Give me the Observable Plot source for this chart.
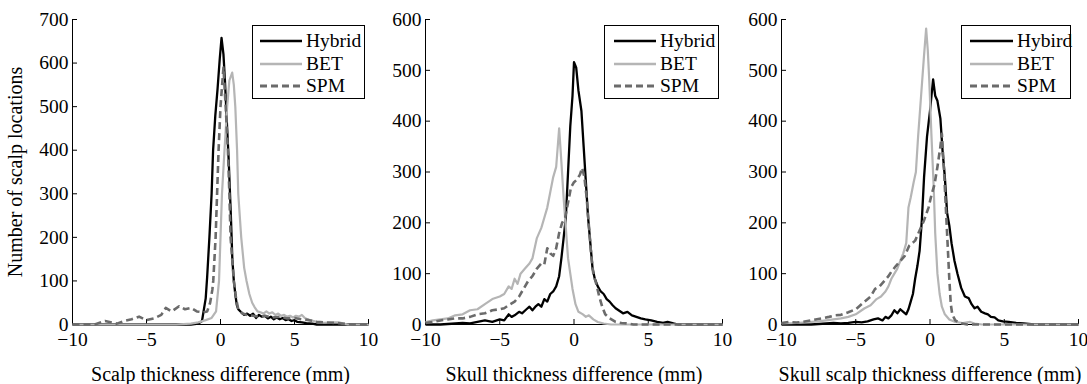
<!DOCTYPE html>
<html>
<head>
<meta charset="utf-8">
<script src="https://cdn.jsdelivr.net/npm/d3@7"></script>
<script src="https://cdn.jsdelivr.net/npm/@observablehq/plot@0.6"></script>
<style>
  html, body { margin: 0; padding: 0; background: #fff; }
  #root { position: relative; width: 1087px; height: 384px; overflow: hidden; font-family: "Liberation Serif", "DejaVu Serif", serif; }
  .panel { position: absolute; top: 0; }
  .panel svg { overflow: visible; }
  .legend { position: absolute; border: 1.5px solid #000; background: #fff; box-sizing: border-box; }
  .legend .row { position: absolute; left: 0; height: 22px; display: flex; align-items: center; }
  .legend .row span { font-family: "Liberation Serif", serif; font-size: 19.5px; line-height: 22px; color: #000; }
</style>
</head>
<body>
<div id="root"></div>
<script>
// ---------- data (x in mm, y = number of scalp locations) ----------
const xTicks = [-10, -5, 0, 5, 10];
const yTicksScalp = [0, 100, 200, 300, 400, 500, 600, 700];
const yTicksSkull = [0, 100, 200, 300, 400, 500, 600];

// Panel 1: scalp thickness difference
const scalpHybrid = [[-10,0],[-8,0],[-6,0],[-4,0],[-2,0],[-1.5,2],[-1.25,8],[-1.0,60],[-0.9,110],[-0.75,200],[-0.6,300],[-0.5,400],[-0.35,480],[-0.2,540],[-0.05,610],[0.07,658],[0.2,620],[0.3,560],[0.45,450],[0.55,380],[0.7,250],[0.8,150],[0.9,100],[1.0,70],[1.1,45],[1.2,35],[1.4,28],[1.6,22],[1.8,25],[2.0,20],[2.2,25],[2.4,15],[2.6,22],[2.8,18],[3.0,20],[3.2,14],[3.4,18],[3.6,12],[3.8,16],[4.0,12],[4.2,15],[4.4,10],[4.6,12],[4.8,8],[5.0,10],[5.2,6],[5.5,5],[5.8,3],[6.2,2],[6.5,0],[8,0],[10,0]];
const scalpBET = [[-10,0],[-6,0],[-3,0],[-2,2],[-1.5,5],[-1.0,10],[-0.6,15],[-0.3,30],[-0.1,100],[0.0,200],[0.1,300],[0.27,400],[0.45,500],[0.6,560],[0.79,578],[0.9,550],[1.0,500],[1.12,400],[1.2,300],[1.4,200],[1.6,130],[1.76,100],[1.95,70],[2.14,50],[2.3,40],[2.5,30],[2.7,28],[2.9,25],[3.1,30],[3.3,25],[3.5,28],[3.7,22],[3.9,25],[4.1,20],[4.3,22],[4.5,18],[4.7,20],[4.9,16],[5.1,20],[5.3,18],[5.5,22],[5.7,15],[6.0,10],[6.3,8],[6.6,5],[7.0,4],[7.5,5],[8.0,5],[8.3,2],[8.6,0],[10,0]];
const scalpSPM = [[-10,0],[-8.5,0],[-7.8,8],[-7.0,2],[-6.5,8],[-6.0,12],[-5.5,18],[-5.0,10],[-4.5,14],[-4.0,22],[-3.7,38],[-3.3,30],[-2.8,42],[-2.4,35],[-2.0,38],[-1.6,30],[-1.2,28],[-0.9,30],[-0.7,50],[-0.55,80],[-0.49,100],[-0.33,200],[-0.13,400],[0.0,500],[0.2,590],[0.35,500],[0.5,400],[0.6,300],[0.68,200],[0.9,100],[1.05,60],[1.2,35],[1.5,25],[1.8,22],[2.2,20],[2.6,18],[3.0,20],[3.5,16],[4.0,18],[4.5,14],[5.0,15],[5.5,12],[6.0,10],[6.5,6],[7.0,5],[7.5,4],[8.0,3],[8.5,1],[9,0],[10,0]];

// Panel 2: skull thickness difference
const skullHybrid = [[-10,0],[-9,0],[-8,2],[-7.5,3],[-7,2],[-6.5,5],[-6,8],[-5.5,5],[-5,10],[-4.7,8],[-4.4,20],[-4.2,15],[-4,18],[-3.7,25],[-3.5,22],[-3.2,30],[-3,35],[-2.8,28],[-2.6,35],[-2.4,40],[-2.2,35],[-2,50],[-1.8,45],[-1.6,60],[-1.4,65],[-1.2,75],[-1.0,95],[-0.85,130],[-0.7,170],[-0.55,210],[-0.4,300],[-0.25,390],[-0.1,450],[0.0,516],[0.15,505],[0.3,460],[0.5,420],[0.65,350],[0.8,280],[0.95,210],[1.1,160],[1.25,110],[1.4,90],[1.6,75],[1.8,65],[2.0,60],[2.2,50],[2.4,45],[2.6,38],[2.8,32],[3.0,28],[3.3,22],[3.6,25],[3.9,18],[4.2,15],[4.5,12],[4.8,10],[5.2,8],[5.6,5],[6.0,3],[6.3,5],[6.7,2],[7,0],[8,0],[10,0]];
const skullBET = [[-10,5],[-9.5,8],[-9,10],[-8.5,12],[-8,18],[-7.5,20],[-7,28],[-6.5,30],[-6,40],[-5.5,50],[-5,55],[-4.7,60],[-4.4,75],[-4.2,70],[-4,90],[-3.8,80],[-3.6,100],[-3.3,110],[-3,120],[-2.8,130],[-2.5,170],[-2.2,190],[-2,210],[-1.8,230],[-1.6,260],[-1.4,290],[-1.2,310],[-1.0,386],[-0.85,320],[-0.7,250],[-0.55,190],[-0.4,130],[-0.25,100],[-0.1,70],[0.1,40],[0.3,25],[0.6,20],[0.8,15],[1.0,18],[1.3,10],[1.6,5],[2.0,2],[2.5,0],[10,0]];
const skullSPM = [[-10,3],[-9.5,5],[-9,8],[-8.5,10],[-8,12],[-7.5,12],[-7,15],[-6.5,20],[-6,22],[-5.5,28],[-5,30],[-4.7,32],[-4.4,38],[-4,45],[-3.7,55],[-3.4,70],[-3.1,85],[-2.8,95],[-2.5,110],[-2.2,120],[-2,118],[-1.8,150],[-1.6,140],[-1.4,135],[-1.2,150],[-1.0,180],[-0.8,200],[-0.6,210],[-0.4,240],[-0.2,270],[0.0,280],[0.2,285],[0.4,295],[0.55,308],[0.7,290],[0.85,250],[1.0,195],[1.15,140],[1.3,100],[1.5,80],[1.7,55],[1.9,35],[2.1,20],[2.4,12],[2.8,5],[3.2,3],[3.6,2],[4,0],[10,0]];

// Panel 3: skull scalp thickness difference
const bothHybrid = [[-10,0],[-8,0],[-7,2],[-6.5,3],[-6,2],[-5.5,3],[-5,5],[-4.6,4],[-4.2,6],[-3.8,10],[-3.5,12],[-3.2,8],[-3,15],[-2.8,12],[-2.6,18],[-2.4,28],[-2.2,22],[-2.0,30],[-1.8,25],[-1.6,20],[-1.45,30],[-1.3,45],[-1.15,60],[-1.0,90],[-0.85,115],[-0.7,145],[-0.55,205],[-0.4,290],[-0.2,370],[0.0,420],[0.1,450],[0.21,482],[0.35,450],[0.5,440],[0.7,405],[0.85,340],[1.0,290],[1.15,220],[1.3,195],[1.45,160],[1.65,125],[1.85,100],[2.1,72],[2.35,55],[2.6,52],[2.8,40],[3.0,32],[3.2,35],[3.45,25],[3.7,22],[3.9,20],[4.1,15],[4.35,14],[4.6,8],[4.9,6],[5.3,5],[5.8,3],[6.3,2],[7,0],[10,0]];
const bothBET = [[-10,2],[-9,3],[-8,5],[-7.5,6],[-7,8],[-6.5,10],[-6,12],[-5.5,15],[-5,20],[-4.6,28],[-4.4,32],[-4,38],[-3.6,50],[-3.3,55],[-3.0,65],[-2.8,75],[-2.6,90],[-2.4,100],[-2.2,110],[-2.0,125],[-1.8,140],[-1.6,160],[-1.45,230],[-1.3,250],[-1.1,280],[-0.95,300],[-0.8,370],[-0.6,450],[-0.4,530],[-0.26,582],[-0.15,540],[-0.05,480],[0.1,370],[0.25,270],[0.35,180],[0.5,100],[0.65,60],[0.8,35],[1.0,20],[1.3,10],[1.7,5],[2.2,3],[2.7,5],[3,2],[3.5,0],[10,0]];
const bothSPM = [[-10,3],[-9.5,5],[-9,4],[-8.6,5],[-8,8],[-7.3,12],[-6.8,15],[-6.4,18],[-6,19],[-5.5,24],[-5,30],[-4.8,35],[-4.4,45],[-4,55],[-3.7,70],[-3.4,75],[-3.1,85],[-2.8,95],[-2.6,104],[-2.3,115],[-2,125],[-1.7,135],[-1.4,155],[-1.0,165],[-0.7,185],[-0.4,205],[-0.1,230],[0.1,255],[0.3,275],[0.5,310],[0.7,350],[0.8,375],[0.95,300],[1.05,240],[1.2,150],[1.3,90],[1.4,40],[1.5,20],[1.7,8],[2,3],[2.5,0],[10,0]];

const labelsA = ["Hybrid", "BET", "SPM"];
const labelsB = ["Hybird", "BET", "SPM"];
const xTitles = ["Scalp thickness difference (mm)", "Skull thickness difference (mm)", "Skull scalp thickness difference (mm)"];
const yTitle = "Number of scalp locations";

// ---------- styles ----------
const FONT = "'Liberation Serif', 'DejaVu Serif', serif";
const seriesStyle = [
  {stroke: "#000000", strokeWidth: 2.3, dash: null},
  {stroke: "#b5b5b5", strokeWidth: 2.2, dash: null},
  {stroke: "#6b6b6b", strokeWidth: 2.6, dash: "7,4"}
];

const root = document.getElementById("root");
const H = 384, MT = 19, MB = 60;

function makePanel(cfg) {
  const innerW = cfg.width - cfg.ml - cfg.mr;
  const innerH = H - MT - MB;
  const marks = [
    Plot.axisX({ticks: xTicks, tickSize: 0, tickPadding: 8, fontSize: 19.5, fontFamily: FONT,
      label: cfg.xTitle, labelAnchor: "center", labelArrow: "none", labelOffset: 56}),
    Plot.axisY({ticks: cfg.yTicks, tickSize: 0, tickPadding: 4, fontSize: 19.5, fontFamily: FONT,
      label: cfg.yTitle, labelAnchor: "center", labelArrow: "none", labelOffset: cfg.ml - 7}),
    Plot.tickX(xTicks, {x: d => d, insetTop: innerH - 5, stroke: "#000", strokeWidth: 1}),
    Plot.tickY(cfg.yTicks, {y: d => d, insetRight: innerW - 5, stroke: "#000", strokeWidth: 1}),
    Plot.ruleX([-10], {stroke: "#000", strokeWidth: 1}),
    Plot.ruleY([0], {stroke: "#000", strokeWidth: 1})
  ];
  cfg.series.forEach((s, i) => {
    const st = seriesStyle[i];
    marks.push(Plot.line(s, {x: d => d[0], y: d => d[1], stroke: st.stroke, strokeWidth: st.strokeWidth,
      strokeDasharray: st.dash, strokeLinejoin: "round", strokeLinecap: "butt"}));
  });
  const svg = Plot.plot({
    width: cfg.width, height: H,
    marginLeft: cfg.ml, marginRight: cfg.mr, marginTop: MT, marginBottom: MB,
    style: {fontFamily: FONT, fontSize: "19.5px", background: "transparent", color: "#000", overflow: "visible"},
    x: {domain: [-10, 10]},
    y: {domain: [0, cfg.yMax]},
    marks
  });
  svg.querySelectorAll("g[aria-label='x-axis label'] text, g[aria-label='y-axis label'] text").forEach(t => t.setAttribute("font-size", "20px"));
  const wrap = document.createElement("div");
  wrap.className = "panel";
  wrap.style.left = cfg.left + "px";
  wrap.style.width = cfg.width + "px";
  wrap.appendChild(svg);
  root.appendChild(wrap);

  // legend
  const lg = document.createElement("div");
  lg.className = "legend";
  lg.style.left = cfg.legend.left + "px";
  lg.style.top = "25px";
  lg.style.width = cfg.legend.width + "px";
  lg.style.height = "74px";
  cfg.labels.forEach((lab, i) => {
    const st = seriesStyle[i];
    const row = document.createElement("div");
    row.className = "row";
    row.style.top = (4 + i * 22.5) + "px";
    row.style.left = cfg.legend.lineLeft + "px";
    const ls = d3.create("svg").attr("width", cfg.legend.lineLen + 4).attr("height", 22);
    ls.append("line").attr("x1", 0).attr("x2", cfg.legend.lineLen).attr("y1", 11).attr("y2", 11)
      .attr("stroke", st.stroke).attr("stroke-width", st.strokeWidth + 0.3)
      .attr("stroke-dasharray", st.dash);
    row.appendChild(ls.node());
    const sp = document.createElement("span");
    sp.textContent = lab;
    row.appendChild(sp);
    lg.appendChild(row);
  });
  root.appendChild(lg);
}

makePanel({left: 0, width: 370, ml: 72, mr: 2, yMax: 700, yTicks: yTicksScalp,
  xTitle: xTitles[0], yTitle: yTitle, series: [scalpHybrid, scalpBET, scalpSPM], labels: labelsA,
  legend: {left: 252, width: 113, lineLeft: 7, lineLen: 42}});
makePanel({left: 370, width: 355, ml: 55, mr: 3, yMax: 600, yTicks: yTicksSkull,
  xTitle: xTitles[1], yTitle: null, series: [skullHybrid, skullBET, skullSPM], labels: labelsA,
  legend: {left: 604, width: 115, lineLeft: 9, lineLen: 42}});
makePanel({left: 720, width: 367, ml: 61, mr: 9, yMax: 600, yTicks: yTicksSkull,
  xTitle: xTitles[2], yTitle: null, series: [bothHybrid, bothBET, bothSPM], labels: labelsB,
  legend: {left: 961, width: 110, lineLeft: 8, lineLen: 43}});
</script>
</body>
</html>
